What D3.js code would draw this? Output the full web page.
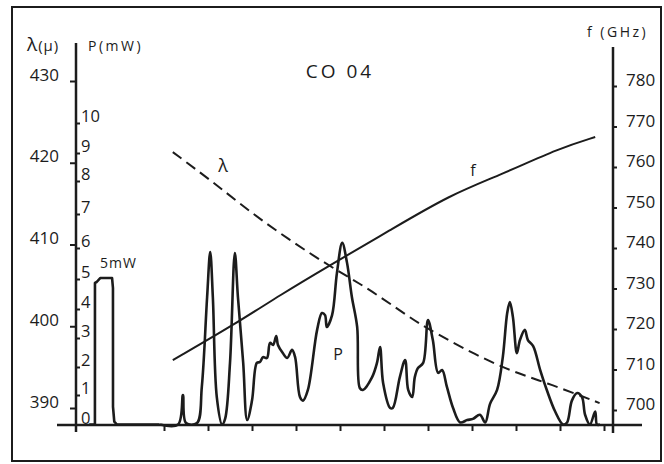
<!DOCTYPE html>
<html>
<head>
<meta charset="utf-8">
<script src="https://cdn.jsdelivr.net/npm/d3@7"></script>
<style>
  body { margin: 0; background: #fff; }
  svg text { font-family: "Open Sans", sans-serif; fill: #1c1c1c; }
  .axis .domain { display: none; }
  .axis line { stroke: #1c1c1c; stroke-width: 2; }
</style>
</head>
<body>
<div class="container"></div>
<script>
const width = 664, height = 464;

// tick labels
const lambdaTicks = [390, 400, 410, 420, 430];
const powerTicks = [0, 1, 2, 3, 4, 5, 6, 7, 8, 9, 10];
const freqTicks = [700, 710, 720, 730, 740, 750, 760, 770, 780];
const sweepTicks = [2, 3, 4, 5, 6, 7, 8, 9, 10, 11, 12];

// wavelength (micron) against sweep position
const lambdaCurve = [
  [2.2, 421.3], [3.2, 417.3], [4.18, 413.0], [5.7, 407.5], [6.6, 404.8],
  [7.6, 401.0], [8.05, 399.5], [9.6, 395.0], [10.7, 393.1], [11.9, 390.6]
];

// frequency (GHz) against sweep position
const freqCurve = [
  [2.2, 712.3], [3.66, 721.5], [4.64, 728.4], [5.7, 735.3], [7.14, 744.4],
  [8.5, 753.1], [9.64, 758.0], [11.0, 764.7], [11.8, 767.4]
];

// 5 mW calibration pulse
const calibPulse = [
  [0.30, 0], [0.43, 0], [0.431, 4.87], [0.47, 4.9], [0.55, 5.03], [0.82, 5.03],
  [0.84, 4.7], [0.841, 0.6], [0.87, 0.1], [0.93, 0], [1.9, 0]
];

// output power (mW) against sweep position
const powerTrace = [
  [1.91, 0], [2.32, 0], [2.43, 1.0], [2.5, 0.05], [2.75, 0.05], [2.86, 1.3],
  [2.98, 4.4], [3.05, 5.87], [3.11, 4.4], [3.2, 0.93], [3.32, 0], [3.39, 0.2],
  [3.5, 2.14], [3.61, 5.84], [3.68, 4.4], [3.8, 2.14], [3.89, 0.15], [4.0, 0.81],
  [4.11, 2.14], [4.18, 2.17], [4.25, 2.34], [4.34, 2.31], [4.41, 2.83], [4.48, 2.76],
  [4.55, 3.07], [4.59, 2.76], [4.7, 2.48], [4.8, 2.31], [4.91, 2.59], [4.98, 2.34],
  [5.09, 0.93], [5.16, 0.81], [5.27, 1.18], [5.48, 3.28], [5.59, 3.86], [5.66, 3.79],
  [5.7, 3.38], [5.82, 3.79], [5.93, 5.19], [6.05, 6.15], [6.16, 5.52], [6.27, 4.4],
  [6.39, 3.38], [6.45, 1.25], [6.52, 1.18], [6.73, 1.64], [6.84, 2.14], [6.91, 2.69],
  [6.98, 1.43], [7.14, 0.56], [7.2, 0.56], [7.36, 1.64], [7.48, 2.24], [7.55, 1.18],
  [7.64, 0.93], [7.7, 1.64], [7.77, 1.96], [7.89, 2.14], [8.0, 3.62], [8.11, 2.93],
  [8.23, 1.79], [8.32, 1.89], [8.43, 1.29], [8.57, 0.56], [8.73, 0.07], [8.89, 0.15],
  [9.02, 0.19], [9.18, 0.33], [9.3, 0.07], [9.41, 0.7], [9.57, 1.18], [9.7, 2.34],
  [9.8, 3.86], [9.86, 4.23], [9.93, 3.72], [10.02, 2.48], [10.09, 2.93], [10.2, 3.28],
  [10.27, 2.93], [10.39, 2.72], [10.55, 1.89], [10.7, 1.18], [10.89, 0.44], [11.07, 0],
  [11.16, 0.07], [11.27, 0.81], [11.39, 1.07], [11.5, 0.93], [11.57, 0.33], [11.68, 0],
  [11.8, 0.44], [11.84, 0], [11.91, 0]
];

const svg = d3.select(".container")
  .append("svg")
    .attr("width", width)
    .attr("height", height);

svg.append("rect")
  .attr("x", 12).attr("y", 7)
  .attr("width", 649).attr("height", 454)
  .attr("fill", "#fff")
  .attr("stroke", "#1c1c1c")
  .attr("stroke-width", 2);

const x = d3.scaleLinear().domain([0, 12]).range([76, 604]);
const yLambda = d3.scaleLinear().domain([390, 430]).range([408, 81]);
const yFreq = d3.scaleLinear().domain([700, 780]).range([410, 86]);
// the power scale on the original is not linear
const yPower = d3.scaleLinear()
  .domain(powerTicks)
  .range([424.5, 395, 367, 338, 309, 279, 248, 214, 181, 153, 123]);

// main frame lines
const ink = "#1c1c1c";
svg.append("line").attr("x1", 76).attr("x2", 76).attr("y1", 43).attr("y2", 432)
  .attr("stroke", ink).attr("stroke-width", 2.5);
svg.append("line").attr("x1", 613).attr("x2", 613).attr("y1", 47).attr("y2", 433)
  .attr("stroke", ink).attr("stroke-width", 2.5);
svg.append("line").attr("x1", 57).attr("x2", 642).attr("y1", 425).attr("y2", 425)
  .attr("stroke", ink).attr("stroke-width", 2.5);

// bottom ticks (no labels)
svg.append("g")
  .attr("class", "axis")
  .attr("transform", "translate(0,425)")
  .call(d3.axisBottom(x).tickValues(sweepTicks).tickSize(6).tickFormat(""));

// wavelength axis
const lamAxis = svg.append("g")
  .attr("class", "axis")
  .attr("transform", "translate(76,0)")
  .call(d3.axisLeft(yLambda).tickValues(lambdaTicks).tickSize(6).tickPadding(11));
lamAxis.selectAll("text")
  .attr("font-size", 17)
  .attr("dy", "-0.05em");

// power axis
const pAxis = svg.append("g")
  .attr("class", "axis")
  .attr("transform", "translate(76,0)")
  .call(d3.axisRight(yPower).tickValues(powerTicks).tickSize(4).tickPadding(1));
pAxis.selectAll("text")
  .attr("font-size", 16.5)
  .attr("dy", "-0.08em");

// frequency axis
const fAxis = svg.append("g")
  .attr("class", "axis")
  .attr("transform", "translate(613,0)")
  .call(d3.axisRight(yFreq).tickValues(freqTicks).tickSize(4).tickPadding(9));
fAxis.selectAll("text")
  .attr("font-size", 17)
  .attr("dy", "-0.02em");

svg.selectAll(".axis text").attr("font-family", null).attr("fill", ink);
svg.selectAll(".axis").attr("font-family", null).attr("font-size", null);

// curves
const toXY = (ys) => d3.line()
  .x((d) => x(d[0]))
  .y((d) => ys(d[1]));

svg.append("path")
  .attr("d", toXY(yLambda).curve(d3.curveBasis)(lambdaCurve))
  .attr("fill", "none")
  .attr("stroke", ink)
  .attr("stroke-width", 2)
  .attr("stroke-dasharray", "11,6");

svg.append("path")
  .attr("d", toXY(yFreq).curve(d3.curveBasis)(freqCurve))
  .attr("fill", "none")
  .attr("stroke", ink)
  .attr("stroke-width", 2);

svg.append("path")
  .attr("d", toXY(yPower)(calibPulse))
  .attr("fill", "none")
  .attr("stroke", ink)
  .attr("stroke-width", 2.6)
  .attr("stroke-linejoin", "round");

svg.append("path")
  .attr("d", toXY(yPower).curve(d3.curveCatmullRom.alpha(0.5))(powerTrace))
  .attr("fill", "none")
  .attr("stroke", ink)
  .attr("stroke-width", 2.6)
  .attr("stroke-linejoin", "round");

// titles and labels
const lamTitle = svg.append("text").attr("x", 27).attr("y", 51);
lamTitle.append("tspan").attr("font-size", 19).text("λ");
lamTitle.append("tspan").attr("font-size", 15).attr("dx", 1).attr("letter-spacing", 1).text("(μ)");

svg.append("text")
  .attr("x", 88).attr("y", 51)
  .attr("font-size", 14)
  .attr("letter-spacing", 2.5)
  .text("P(mW)");

svg.append("text")
  .attr("x", 587).attr("y", 37)
  .attr("font-size", 14)
  .attr("letter-spacing", 2.5)
  .text("f (GHz)");

svg.append("text")
  .attr("x", 340).attr("y", 78)
  .attr("text-anchor", "middle")
  .attr("font-size", 19)
  .attr("letter-spacing", 3)
  .text("CO 04");

svg.append("text")
  .attr("x", 100).attr("y", 268)
  .attr("font-size", 14)
  .attr("letter-spacing", 1)
  .text("5mW");

svg.append("text")
  .attr("x", 223).attr("y", 172)
  .attr("text-anchor", "middle")
  .attr("font-size", 18)
  .text("λ");

svg.append("text")
  .attr("x", 473).attr("y", 176)
  .attr("text-anchor", "middle")
  .attr("font-size", 16)
  .text("f");

svg.append("text")
  .attr("x", 338).attr("y", 360)
  .attr("text-anchor", "middle")
  .attr("font-size", 16)
  .text("P");
</script>
</body>
</html>
